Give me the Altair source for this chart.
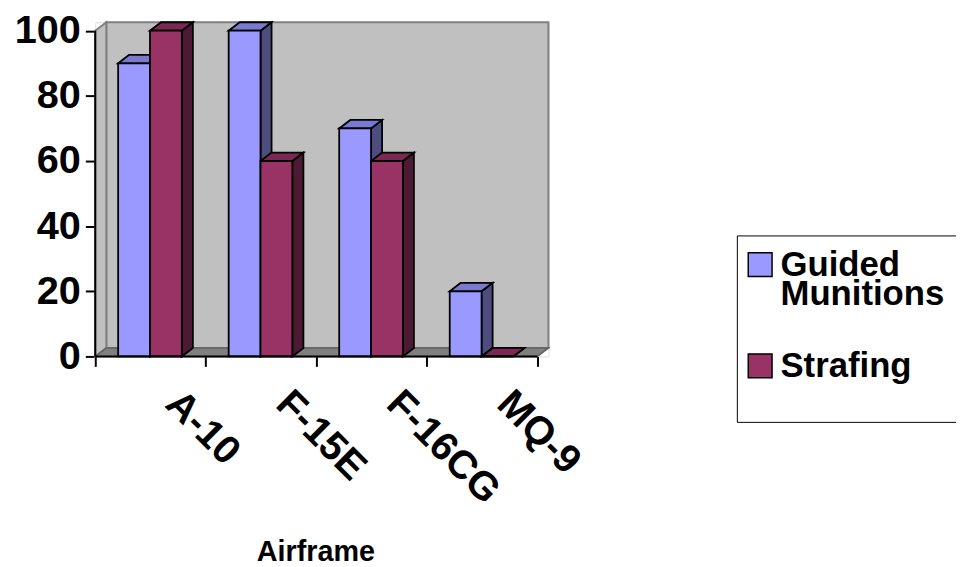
import json
import altair as alt
import pandas as pd

categories = ["A-10", "F-15E", "F-16CG", "MQ-9"]
series_names = ["Guided Munitions", "Strafing"]
guided = [90, 100, 70, 20]
strafing = [100, 60, 60, 0]
y_ticks = [0, 20, 40, 60, 80, 100]
x_title = "Airframe"

front_colors = ["#9999FF", "#993366"]
top_colors = ["#7A7AD0", "#7A2952"]
side_colors = ["#4D4D80", "#4D1A33"]

FONT = "Liberation Sans"
DX = 0.1      # 3D depth in category units
DY = 2.6      # 3D depth in value units
BAR_START = 0.207
BAR_W = 0.288
N = len(categories)
YMAX = y_ticks[-1]

fronts, sides, tops = [], [], []
for s, vals in enumerate([guided, strafing]):
    for i, v in enumerate(vals):
        L = i + BAR_START + s * BAR_W
        R = L + BAR_W
        bid = f"{s}-{i}"
        fronts.append(dict(bar=bid, series=series_names[s], L=L, R=R, v=v))
        sides.append(dict(bar=bid, fill=side_colors[s], x=R, y=0, y2=v))
        sides.append(dict(bar=bid, fill=side_colors[s], x=R + DX, y=DY, y2=v + DY))
        tops.append(dict(bar=bid, fill=top_colors[s], y=v, x=L, x2=R))
        tops.append(dict(bar=bid, fill=top_colors[s], y=v + DY, x=L + DX, x2=R + DX))

fronts = pd.DataFrame(fronts)
sides = pd.DataFrame(sides)
tops = pd.DataFrame(tops)

back_wall = pd.DataFrame([dict(x=DX, x2=N + DX, y=DY, y2=YMAX + DY)])
left_wall = pd.DataFrame([dict(x=0, y=0, y2=YMAX), dict(x=DX, y=DY, y2=YMAX + DY)])
floor = pd.DataFrame([dict(y=0, x=0, x2=N), dict(y=DY, x=DX, x2=N + DX)])
axis_lines = pd.DataFrame([dict(x=0, x2=0, y=0, y2=YMAX), dict(x=0, x2=N, y=0, y2=0)])

xs = alt.Scale(domain=[0, N + DX], nice=False, zero=False)
ys = alt.Scale(domain=[0, YMAX + DY], nice=False, zero=False)

label_expr = json.dumps(categories + [""]) + "[datum.value]"

x_axis = alt.Axis(
    values=list(range(N + 1)), labelExpr=label_expr, grid=False, domain=False,
    tickSize=10, tickWidth=2, tickColor="black",
    labelAngle=45, labelAlign="left", labelBaseline="middle",
    labelOffset=77, labelPadding=31, labelFlush=False, labelOverlap=False, labelBound=False,
    labelFont=FONT, labelFontSize=40, labelFontWeight="bold", labelColor="black",
    title=x_title, titleFont=FONT, titleFontSize=29, titleFontWeight="bold", titleColor="black",
    titleX=222, titleY=206, titleBaseline="alphabetic", titleAlign="center",
)
y_axis = alt.Axis(
    values=y_ticks, grid=False, domain=False,
    tickSize=10, tickWidth=2, tickColor="black",
    labelFont=FONT, labelFontSize=40, labelFontWeight="bold", labelColor="black",
    labelPadding=5, title=None,
)

wall = alt.Chart(back_wall).mark_rect(fill="#C0C0C0", stroke="#808080", strokeWidth=2).encode(
    x=alt.X("x:Q", scale=xs, axis=x_axis), x2="x2",
    y=alt.Y("y:Q", scale=ys, axis=y_axis), y2="y2",
)
lwall = alt.Chart(left_wall).mark_area(fill="#C0C0C0", stroke="#808080", strokeWidth=2).encode(
    x=alt.X("x:Q", scale=xs, axis=x_axis),
    y=alt.Y("y:Q", scale=ys, axis=y_axis), y2="y2",
)
flr = alt.Chart(floor).mark_area(orient="horizontal", fill="#808080", stroke="#606060", strokeWidth=1.5).encode(
    y=alt.Y("y:Q", scale=ys, axis=y_axis),
    x=alt.X("x:Q", scale=xs, axis=x_axis), x2="x2",
)
side_layer = alt.Chart(sides).mark_area(stroke="black", strokeWidth=1.8, strokeJoin="miter").encode(
    x=alt.X("x:Q", scale=xs, axis=x_axis),
    y=alt.Y("y:Q", scale=ys, axis=y_axis), y2="y2",
    detail="bar:N",
    fill=alt.Fill("fill:N", scale=None),
)
top_layer = alt.Chart(tops).mark_area(orient="horizontal", stroke="black", strokeWidth=1.8, strokeJoin="miter").encode(
    y=alt.Y("y:Q", scale=ys, axis=y_axis),
    x=alt.X("x:Q", scale=xs, axis=x_axis), x2="x2",
    detail="bar:N",
    fill=alt.Fill("fill:N", scale=None),
)
front_layer = alt.Chart(fronts).mark_rect(stroke="black", strokeWidth=1.8).encode(
    x=alt.X("L:Q", scale=xs, axis=x_axis), x2="R",
    y=alt.Y("v:Q", scale=ys, axis=y_axis), y2=alt.datum(0),
    color=alt.Color(
        "series:N",
        scale=alt.Scale(domain=series_names, range=front_colors),
        legend=alt.Legend(
            title=" ", titleOrient="bottom", titleFontSize=22, titleFont=FONT,
            orient="none", legendX=647, legendY=215,
            fillColor="white", strokeColor="black", padding=12,
            symbolType="square", symbolSize=576, symbolStrokeColor="black", symbolStrokeWidth=1.5,
            symbolOffset=-6,
            labelFont=FONT, labelFontSize=35, labelFontWeight="bold", labelColor="black",
            labelLimit=0, labelOffset=3, rowPadding=36,
            labelExpr="split(datum.label, ' ')",
        ),
    ),
)
rules = alt.Chart(axis_lines).mark_rule(color="black", strokeWidth=2).encode(
    x=alt.X("x:Q", scale=xs, axis=x_axis), x2="x2",
    y=alt.Y("y:Q", scale=ys, axis=y_axis), y2="y2",
)

chart = alt.layer(wall, lwall, flr, side_layer, top_layer, front_layer, rules).properties(
    width=457, height=337,
    autosize=alt.AutoSizeParams(type="none"),
    padding={"left": 88, "top": 12, "right": 411, "bottom": 210},
    background="white",
).configure_view(stroke=None).configure(style={"guide-label": {"lineHeight": 30}})

chart.save("out.html", embed_options={"renderer": "svg", "actions": False})
